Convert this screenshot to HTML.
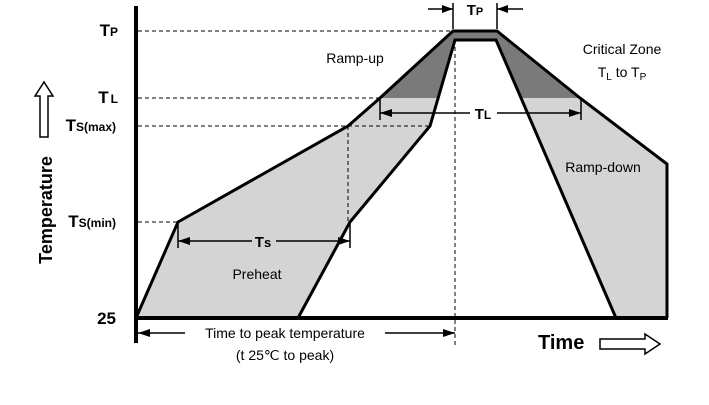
<!DOCTYPE html>
<html><head><meta charset="utf-8"><style>body{margin:0;background:#fff}svg{display:block}</style></head><body>
<svg width="709" height="405" viewBox="0 0 709 405" xmlns="http://www.w3.org/2000/svg" font-family="Liberation Sans, sans-serif">
<defs><clipPath id="up"><rect x="0" y="0" width="709" height="98"/></clipPath></defs>
<path d="M136,318 L178,222 L348,126 L380,98 L453,31 L497,31 L580,98 L667,164 L667,318 L616,318 L496,40 L455,40 L430,126 L350,222 L298,318 Z" fill="#d4d4d4"/>
<path d="M136,318 L178,222 L348,126 L380,98 L453,31 L497,31 L580,98 L667,164 L667,318 L616,318 L496,40 L455,40 L430,126 L350,222 L298,318 Z" fill="#7a7a7a" clip-path="url(#up)"/>
<g stroke="#000" stroke-width="1" stroke-dasharray="4,3" fill="none">
<line x1="138" y1="31" x2="453" y2="31"/><line x1="138" y1="98" x2="380" y2="98"/>
<line x1="138" y1="126" x2="430" y2="126"/><line x1="138" y1="222" x2="178" y2="222"/>
<line x1="348" y1="126" x2="348" y2="222"/><line x1="455" y1="40" x2="455" y2="345"/>
</g>
<g stroke="#000" stroke-width="3" fill="none" stroke-linejoin="miter">
<polyline points="136,318 178,222 348,126 380,98 453,31 497,31 580,98 667,164 667,318"/>
<polyline points="298,318 350,222 430,126 455,40 496,40 616,318"/>
<line x1="136" y1="6" x2="136" y2="343" stroke-width="4"/>
<line x1="134" y1="318" x2="668" y2="318" stroke-width="4"/>
</g>
<g stroke="#000" stroke-width="1.5" fill="none">
<line x1="380" y1="98" x2="380" y2="120"/><line x1="581" y1="98" x2="581" y2="120"/>
<line x1="380" y1="113" x2="470" y2="113"/><line x1="497" y1="113" x2="581" y2="113"/>
<line x1="178" y1="222" x2="178" y2="248"/><line x1="350" y1="222" x2="350" y2="248"/>
<line x1="178" y1="241" x2="252" y2="241"/><line x1="276" y1="241" x2="350" y2="241"/>
<line x1="453" y1="3" x2="453" y2="29"/><line x1="497" y1="3" x2="497" y2="29"/>
<line x1="428" y1="9" x2="453" y2="9"/><line x1="497" y1="9" x2="523" y2="9"/>
<line x1="138" y1="333" x2="185" y2="333"/><line x1="385" y1="333" x2="455" y2="333"/>
</g>
<g fill="#000">
<path d="M380,113 l12,-4 v8z"/><path d="M581,113 l-12,-4 v8z"/>
<path d="M178,241 l12,-4 v8z"/><path d="M350,241 l-12,-4 v8z"/>
<path d="M453,9 l-11,-4 v8z"/><path d="M497,9 l11,-4 v8z"/>
<path d="M138,333 l12,-4 v8z"/><path d="M455,333 l-12,-4 v8z"/>
</g>
<g stroke="#000" stroke-width="1.5" fill="#fff">
<path d="M40,137 V96 H35 L44,82 L53,96 H48 V137 Z"/>
<path d="M600,339 H645 V334 L660,344 L645,354 V349 H600 Z"/>
</g>
<g font-weight="bold" font-size="17" text-anchor="end">
<text x="118" y="36">T<tspan font-size="12">P</tspan></text>
<text x="118" y="103">T<tspan font-size="12" dx="2">L</tspan></text>
<text x="116" y="131">T<tspan font-size="12">S(max)</tspan></text>
<text x="116" y="227">T<tspan font-size="12">S(min)</tspan></text>
<text x="116" y="324">25</text>
</g>
<text transform="translate(52,210) rotate(-90)" font-weight="bold" font-size="18" text-anchor="middle">Temperature</text>
<text x="538" y="349" font-weight="bold" font-size="20">Time</text>
<g font-size="14" text-anchor="middle">
<text x="355" y="63">Ramp-up</text>
<text x="622" y="54">Critical Zone</text>
<text x="622" y="77">T<tspan font-size="10" dy="3">L</tspan><tspan dy="-3"> to T</tspan><tspan font-size="10" dy="3">P</tspan></text>
<text x="603" y="172">Ramp-down</text>
<text x="257" y="279">Preheat</text>
<text x="285" y="338">Time to peak temperature</text>
<text x="285" y="360">(t 25℃ to peak)</text>
</g>
<g font-weight="bold" font-size="15" text-anchor="middle">
<text x="483" y="119">T<tspan font-size="12">L</tspan></text>
<text x="263" y="247">T<tspan font-size="13">s</tspan></text>
<text x="475" y="15">T<tspan font-size="11">P</tspan></text>
</g>
</svg>
</body></html>
